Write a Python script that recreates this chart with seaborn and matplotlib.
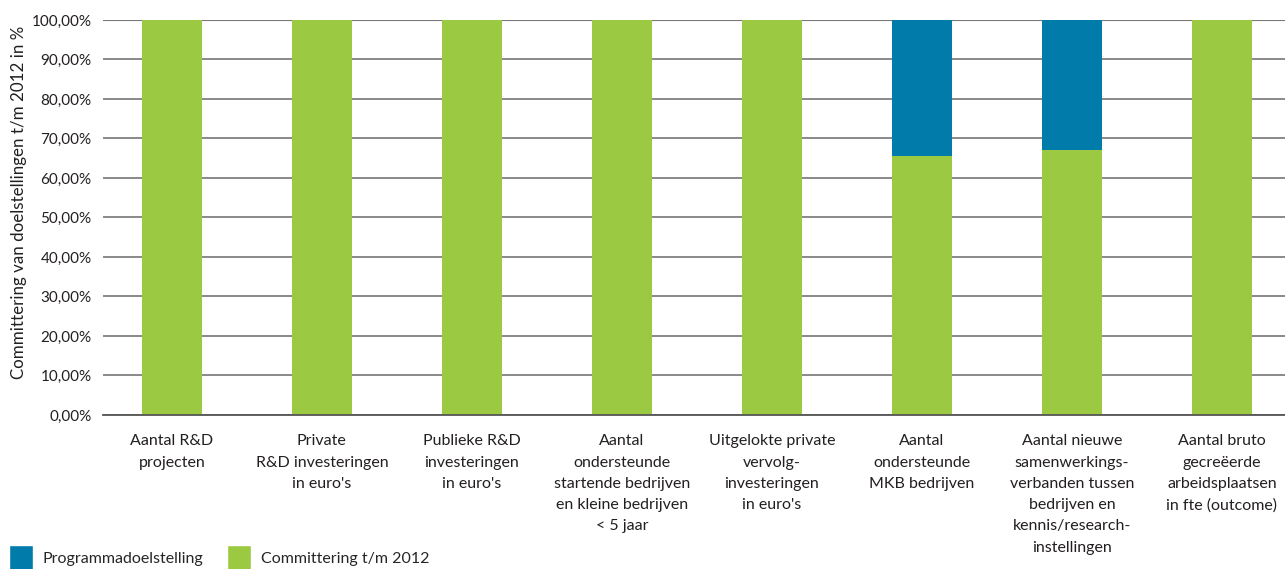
import numpy as np
import pandas as pd
import matplotlib as mpl
mpl.use("Agg")
from matplotlib import pyplot as plt
from matplotlib.patches import Patch
from matplotlib.ticker import FuncFormatter
import seaborn as sns

categories = [
    "Aantal R&D\nprojecten",
    "Private\nR&D investeringen\nin euro's",
    "Publieke R&D\ninvesteringen\nin euro's",
    "Aantal\nondersteunde\nstartende bedrijven\nen kleine bedrijven\n< 5 jaar",
    "Uitgelokte private\nvervolg-\ninvesteringen\nin euro's",
    "Aantal\nondersteunde\nMKB bedrijven",
    "Aantal nieuwe\nsamenwerkings-\nverbanden tussen\nbedrijven en\nkennis/research-\ninstellingen",
    "Aantal bruto\ngecreëerde\narbeidsplaatsen\nin fte (outcome)",
]
committering = [100, 100, 100, 100, 100, 65.6, 67.1, 100]
doelstelling = [100, 100, 100, 100, 100, 100, 100, 100]

blue = "#007baa"
green = "#9bc942"
txt = "#231f20"

sns.set_style("white")
plt.rcParams["font.family"] = ["Lato", "DejaVu Sans"]

df = pd.DataFrame({"cat": categories, "doel": doelstelling, "comm": committering})

fig = plt.figure(figsize=(12.85, 5.69), dpi=100)
ax = fig.add_axes([0.080, 0.2707, 0.920, 0.6942])

ax.set_axisbelow(True)
ax.yaxis.grid(True, color="#808080", linewidth=1.3)
sns.barplot(data=df, x="cat", y="doel", color=blue, width=0.4, saturation=1,
            linewidth=0, ax=ax)
sns.barplot(data=df, x="cat", y="comm", color=green, width=0.4, saturation=1,
            linewidth=0, ax=ax)

ax.set_ylim(0, 100)
ax.set_xlim(-0.46, 7.42)
ax.set_yticks(np.arange(0, 101, 10))
ax.yaxis.set_major_formatter(FuncFormatter(lambda v, p: f"{v:.2f}%".replace(".", ",")))
ax.tick_params(axis="y", length=0, pad=8, labelsize=11, labelcolor=txt)
ax.tick_params(axis="x", length=0, pad=14, labelsize=11.5, labelcolor=txt)
for lab in ax.get_xticklabels():
    lab.set_linespacing(1.66)
    lab.set_verticalalignment("top")
ax.set_xlabel("")
ax.set_ylabel("Committering van doelstellingen t/m 2012 in %", fontsize=12.2,
              color=txt)
ax.yaxis.set_label_coords(-0.064, 0.539)
for s in ["left", "right", "top"]:
    ax.spines[s].set_visible(False)
ax.spines["bottom"].set_color("#555555")
ax.spines["bottom"].set_linewidth(1.3)
ax.axhline(100, color="#444444", linewidth=1.5, zorder=0.5)

handles = [Patch(facecolor=blue, label="Programmadoelstelling"),
           Patch(facecolor=green, label="Committering t/m 2012")]
fig.legend(handles=handles, loc="upper left", bbox_to_anchor=(0.007, 0.042),
           ncol=2, frameon=False, fontsize=11.5, handlelength=1.5,
           handleheight=2.1, columnspacing=1.5, handletextpad=0.6,
           borderaxespad=0, borderpad=0)

fig.savefig("out.png", dpi=100)
